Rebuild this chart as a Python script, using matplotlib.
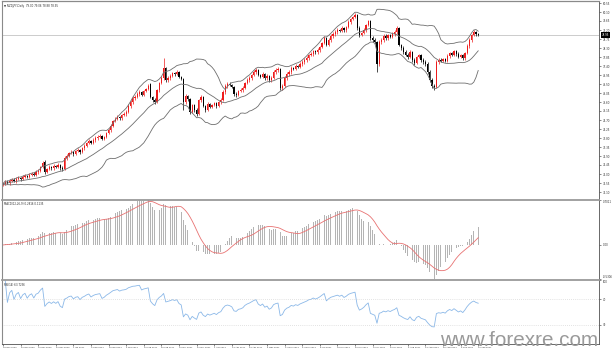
import numpy as np
import pandas as pd
import matplotlib
matplotlib.use("Agg")
import matplotlib.pyplot as plt
from matplotlib.lines import Line2D

symbol_title = "NZDJPY,Daily"

opens = [
    71.45, 71.50, 71.60, 71.55, 71.65, 71.70, 71.65, 71.75, 71.80, 71.75,
    71.85, 71.90, 71.85, 71.95, 72.00, 71.95, 72.10, 72.15, 72.35, 72.60,
    72.10, 72.25, 72.35, 72.30, 72.40, 72.35, 72.45, 72.30, 72.25, 72.80,
    72.90, 73.05, 73.10, 73.00, 73.15, 73.20, 73.10, 73.30, 73.40, 73.55,
    73.65, 73.55, 73.70, 73.80, 73.85, 73.90, 73.75, 73.85, 74.05, 74.20,
    74.40, 74.65, 74.75, 74.85, 74.80, 74.95, 75.00, 75.10, 75.40, 75.60,
    75.80, 75.85, 76.00, 76.10, 75.95, 76.15, 76.25, 76.50, 75.85, 75.70,
    75.60, 76.20, 76.55, 76.80, 77.30, 76.70, 76.80, 76.90, 77.05, 77.00,
    77.10, 76.85, 76.75, 75.60, 75.90, 75.75, 75.10, 75.45, 75.20, 75.00,
    75.70, 75.85, 75.40, 75.20, 75.50, 75.35, 75.45, 75.55, 75.40, 75.60,
    75.70, 76.10, 76.40, 76.50, 76.45, 76.35, 76.00, 75.95, 76.15, 76.20,
    76.30, 76.55, 76.70, 76.80, 76.95, 77.10, 77.20, 76.95, 76.85, 77.00,
    76.80, 76.90, 76.70, 76.80, 77.10, 77.20, 77.25, 76.30, 76.40, 76.80,
    77.00, 77.10, 77.30, 77.25, 77.40, 77.35, 77.50, 77.60, 77.70, 77.80,
    77.95, 78.00, 78.15, 78.10, 78.20, 78.35, 78.55, 78.80, 78.45, 78.70,
    78.90, 79.00, 79.10, 79.20, 79.15, 79.30, 79.20, 79.35, 79.60, 79.75,
    79.85, 79.95, 79.30, 78.95, 79.05, 79.20, 79.45, 79.65, 78.80, 78.70,
    78.60, 77.50, 78.60, 78.70, 78.90, 78.80, 78.95, 78.85, 79.00, 79.10,
    79.30, 78.45, 78.30, 78.10, 77.95, 77.85, 78.10, 77.70, 77.55, 77.85,
    77.95, 77.70, 77.60, 77.50, 77.10, 76.70, 76.40, 76.35, 77.60, 77.70,
    77.65, 77.75, 77.65, 77.90, 78.05, 77.95, 78.15, 78.00, 77.85, 77.95,
    77.80, 78.05, 78.40, 78.70, 78.95, 79.10, 79.00,
]

highs = [
    71.62, 71.70, 71.68, 71.74, 71.82, 71.78, 71.84, 71.90, 71.86, 71.94,
    71.98, 71.96, 72.04, 72.10, 72.08, 72.18, 72.24, 72.42, 72.64, 72.68,
    72.32, 72.44, 72.42, 72.48, 72.46, 72.54, 72.52, 72.38, 72.88, 72.98,
    73.12, 73.18, 73.16, 73.22, 73.28, 73.26, 73.36, 73.48, 73.62, 73.74,
    73.72, 73.78, 73.88, 73.94, 73.98, 73.96, 73.92, 74.12, 74.28, 74.48,
    74.72, 74.84, 74.94, 74.92, 75.02, 75.08, 75.18, 75.48, 75.68, 75.88,
    75.94, 76.08, 76.18, 76.16, 76.22, 76.32, 76.48, 76.56, 75.92, 75.78,
    76.26, 76.62, 76.88, 77.80, 77.36, 76.88, 76.98, 77.12, 77.12, 77.18,
    77.16, 76.92, 76.82, 75.98, 75.96, 75.82, 75.52, 75.52, 75.28, 75.76,
    75.94, 75.92, 75.46, 75.58, 75.56, 75.52, 75.62, 75.62, 75.66, 75.78,
    76.18, 76.48, 76.58, 76.58, 76.52, 76.42, 76.08, 76.22, 76.28, 76.38,
    76.62, 76.78, 76.88, 77.02, 77.18, 77.32, 77.26, 77.02, 77.08, 77.06,
    76.98, 76.96, 76.88, 77.18, 77.28, 77.34, 77.32, 76.48, 76.88, 77.08,
    77.18, 77.38, 77.36, 77.48, 77.46, 77.58, 77.68, 77.78, 77.88, 78.02,
    78.08, 78.22, 78.22, 78.28, 78.42, 78.62, 78.88, 78.86, 78.78, 78.98,
    79.08, 79.18, 79.28, 79.26, 79.38, 79.36, 79.42, 79.68, 79.82, 79.92,
    80.05, 80.02, 79.38, 79.12, 79.28, 79.52, 79.72, 79.72, 78.88, 78.78,
    78.66, 78.68, 78.78, 78.98, 78.98, 79.02, 79.02, 79.08, 79.18, 79.40,
    79.36, 78.52, 78.38, 78.18, 78.04, 78.18, 78.16, 77.78, 77.92, 78.02,
    78.02, 77.78, 77.68, 77.58, 77.18, 76.78, 76.48, 77.68, 77.78, 77.78,
    77.82, 77.82, 77.98, 78.12, 78.12, 78.22, 78.22, 78.08, 78.02, 78.02,
    78.12, 78.48, 78.78, 79.02, 79.18, 79.16, 79.06,
]

lows = [
    71.38, 71.44, 71.48, 71.46, 71.58, 71.58, 71.56, 71.68, 71.66, 71.68,
    71.78, 71.78, 71.80, 71.88, 71.88, 71.90, 72.02, 72.08, 72.28, 72.02,
    72.04, 72.18, 72.22, 72.22, 72.28, 72.28, 72.22, 72.16, 72.20, 72.72,
    72.84, 72.98, 72.92, 72.94, 73.08, 73.02, 73.04, 73.22, 73.34, 73.48,
    73.48, 73.48, 73.62, 73.72, 73.78, 73.68, 73.68, 73.78, 73.98, 74.12,
    74.34, 74.58, 74.68, 74.72, 74.72, 74.88, 74.92, 75.04, 75.32, 75.52,
    75.72, 75.78, 75.92, 75.88, 75.88, 76.08, 76.18, 75.78, 75.62, 75.48,
    75.54, 76.12, 76.48, 76.72, 76.62, 76.60, 76.72, 76.84, 76.92, 76.94,
    76.78, 76.68, 75.20, 75.52, 75.66, 75.02, 75.04, 75.12, 74.92, 74.94,
    75.62, 75.34, 75.12, 75.14, 75.28, 75.28, 75.38, 75.32, 75.34, 75.52,
    75.64, 76.02, 76.32, 76.38, 76.28, 75.92, 75.86, 75.88, 76.08, 76.12,
    76.24, 76.48, 76.62, 76.72, 76.88, 77.02, 76.88, 76.78, 76.78, 76.72,
    76.72, 76.62, 76.62, 76.74, 77.02, 77.12, 76.22, 76.20, 76.34, 76.72,
    76.92, 77.02, 77.18, 77.18, 77.28, 77.28, 77.42, 77.52, 77.62, 77.72,
    77.88, 77.92, 78.02, 78.02, 78.12, 78.28, 78.48, 78.38, 78.38, 78.62,
    78.82, 78.92, 79.02, 79.08, 79.08, 79.12, 79.12, 79.28, 79.52, 79.68,
    79.78, 79.22, 78.86, 78.88, 78.98, 79.12, 79.38, 78.72, 78.62, 78.52,
    77.10, 77.42, 78.52, 78.62, 78.72, 78.72, 78.78, 78.78, 78.92, 79.02,
    78.38, 78.22, 78.02, 77.88, 77.76, 77.78, 77.62, 77.46, 77.48, 77.78,
    77.62, 77.52, 77.42, 77.02, 76.62, 76.32, 76.20, 76.28, 77.52, 77.58,
    77.58, 77.58, 77.58, 77.82, 77.88, 77.88, 77.92, 77.78, 77.78, 77.72,
    77.72, 77.98, 78.32, 78.62, 78.88, 78.92, 78.88,
]

closes = [
    71.50, 71.60, 71.55, 71.65, 71.70, 71.65, 71.75, 71.80, 71.75, 71.85,
    71.90, 71.85, 71.95, 72.00, 71.95, 72.10, 72.15, 72.35, 72.55, 72.10,
    72.25, 72.35, 72.30, 72.40, 72.35, 72.45, 72.30, 72.25, 72.80, 72.90,
    73.05, 73.10, 73.00, 73.15, 73.20, 73.10, 73.30, 73.40, 73.55, 73.65,
    73.55, 73.70, 73.80, 73.85, 73.90, 73.75, 73.85, 74.05, 74.20, 74.40,
    74.65, 74.75, 74.85, 74.80, 74.95, 75.00, 75.10, 75.40, 75.60, 75.80,
    75.85, 76.00, 76.10, 75.95, 76.15, 76.25, 76.40, 75.85, 75.70, 75.60,
    76.20, 76.55, 76.80, 77.30, 76.70, 76.80, 76.90, 77.05, 77.00, 77.10,
    76.85, 76.75, 75.60, 75.90, 75.75, 75.10, 75.45, 75.20, 75.00, 75.70,
    75.85, 75.40, 75.20, 75.50, 75.35, 75.45, 75.55, 75.40, 75.60, 75.70,
    76.10, 76.40, 76.50, 76.45, 76.35, 76.00, 75.95, 76.15, 76.20, 76.30,
    76.55, 76.70, 76.80, 76.95, 77.10, 77.20, 76.95, 76.85, 77.00, 76.80,
    76.90, 76.70, 76.80, 77.10, 77.20, 77.25, 76.30, 76.40, 76.80, 77.00,
    77.10, 77.30, 77.25, 77.40, 77.35, 77.50, 77.60, 77.70, 77.80, 77.95,
    78.00, 78.15, 78.10, 78.20, 78.35, 78.55, 78.80, 78.45, 78.70, 78.90,
    79.00, 79.10, 79.20, 79.15, 79.30, 79.20, 79.35, 79.60, 79.75, 79.85,
    79.95, 79.30, 78.95, 79.05, 79.20, 79.45, 79.65, 78.80, 78.70, 78.60,
    77.50, 78.60, 78.70, 78.90, 78.80, 78.95, 78.85, 79.00, 79.10, 79.30,
    78.45, 78.30, 78.10, 77.95, 77.85, 78.10, 77.70, 77.55, 77.85, 77.95,
    77.70, 77.60, 77.50, 77.10, 76.70, 76.40, 76.35, 77.60, 77.70, 77.65,
    77.75, 77.65, 77.90, 78.05, 77.95, 78.15, 78.00, 77.85, 77.95, 77.80,
    78.05, 78.40, 78.70, 78.95, 79.10, 79.00, 78.95,
]

date_labels = [
    "18 Nov 2020", "30 Nov 2020", "10 Dec 2020", "22 Dec 2020", "1 Jan 2021",
    "13 Jan 2021", "25 Jan 2021", "4 Feb 2021", "16 Feb 2021", "26 Feb 2021",
    "10 Mar 2021", "22 Mar 2021", "1 Apr 2021", "13 Apr 2021", "23 Apr 2021",
    "5 May 2021", "17 May 2021", "27 May 2021", "8 Jun 2021", "18 Jun 2021",
    "30 Jun 2021", "12 Jul 2021", "22 Jul 2021", "3 Aug 2021", "13 Aug 2021",
    "25 Aug 2021", "6 Sep 2021", "16 Sep 2021",
]
label_step = 8

price_ticks = [80.55, 80.10, 79.65, 79.20, 78.75, 78.30, 77.85, 77.40, 76.95,
               76.50, 76.05, 75.60, 75.15, 74.70, 74.25, 73.80, 73.35, 72.90,
               72.45, 72.00, 71.55, 71.10]
rsi_ticks = [100, 70, 30]
rsi_levels = [70, 30]

# ---------------------------------------------------------------
W, H = 612, 353
fig = plt.figure(figsize=(W / 100, H / 100), dpi=100)
fig.patch.set_facecolor("white")

def ax_px(x0, y0, x1, y1):
    return fig.add_axes([x0 / W, 1 - y1 / H, (x1 - x0) / W, (y1 - y0) / H])

LEFT, RIGHT = 2, 599
ax1 = ax_px(LEFT, 1, RIGHT, 199)
ax2 = ax_px(LEFT, 200, RIGHT, 279)
ax3 = ax_px(LEFT, 280, RIGHT, 344)

N = len(closes)
x = np.arange(N)
o = np.array(opens); h = np.array(highs); l = np.array(lows); c = np.array(closes)
s = pd.Series(c)

px_per_bar = 2.2
x_left = -(3 - LEFT) / px_per_bar
x_right = x_left + (RIGHT - LEFT) / px_per_bar

RED = "#ee1c1c"
BLACK = "#000000"
TXT = "#303030"
FS = 1.9
FSX = 1.55

# indicators
mid = s.rolling(20, min_periods=1).mean()
sd = s.rolling(20, min_periods=1).std(ddof=0)
upper = mid + 2 * sd
lower = mid - 2 * sd

ema12 = s.ewm(span=12, adjust=False).mean()
ema26 = s.ewm(span=26, adjust=False).mean()
macd = ema12 - ema26
signal = macd.rolling(9, min_periods=1).mean()

d = s.diff()
gain = d.clip(lower=0)
loss = -d.clip(upper=0)
ag = gain.ewm(alpha=1 / 14, adjust=True).mean()
al = loss.ewm(alpha=1 / 14, adjust=True).mean()
rsi = 100 - 100 / (1 + ag / al)

# ---- main panel
up = c >= o
cols = np.where(up, RED, BLACK)
ax1.vlines(x, l, h, colors=cols, lw=0.5)
body = np.maximum(np.abs(c - o), 0.03)
ax1.bar(x, body, bottom=np.minimum(o, c), width=0.62, color=cols, linewidth=0)
for band in (upper, mid, lower):
    ax1.plot(x, band, color="#6e6e6e", lw=0.6)
ax1.axhline(c[-1], color="#c4c4c4", lw=0.6, zorder=0)
ax1.set_xlim(x_left, x_right)
ax1.set_ylim(80.70 - 199 / 20, 80.70 - 1 / 20)
ax1.set_yticks(price_ticks)
ax1.set_yticklabels([f"{v:.2f}" for v in price_ticks])
ax1.annotate(f"{c[-1]:.2f}", xy=(1.0, c[-1]), xycoords=("axes fraction", "data"),
             xytext=(2, 0), textcoords="offset points", fontsize=FS, color="white",
             va="center", ha="left",
             bbox=dict(boxstyle="square,pad=0.35", fc="black", ec="black", lw=0))
ax1.text(0.004, 0.985, f"\u25bc {symbol_title}  {o[-1]:.2f} {h[-1]:.2f} {l[-1]:.2f} {c[-1]:.2f}",
         transform=ax1.transAxes, fontsize=FS, va="top", ha="left", color=TXT)

# ---- MACD panel
ax2.bar(x, macd, width=0.42, color="#b4b4b4", linewidth=0)
ax2.plot(x, signal, color="#e87272", lw=0.6)
mmax = max(macd.max(), signal.max())
mmin = min(macd.min(), signal.min())
ax2.set_xlim(x_left, x_right)
ax2.set_ylim(mmin, mmax)
ax2.set_yticks([mmax, 0, mmin])
ax2.set_yticklabels([f"{mmax:.4f}", "0.00", f"{mmin:.4f}"])
ax2.text(0.004, 0.97, f"MACD(12,26,9) {macd.iloc[-1]:.4f} {signal.iloc[-1]:.4f}",
         transform=ax2.transAxes, fontsize=FS, va="top", ha="left", color=TXT)

# ---- RSI panel
ax3.plot(x, rsi, color="#8bb8e8", lw=0.6)
for lv in rsi_levels:
    ax3.axhline(lv, color="#c8c8c8", lw=0.5, ls=(0, (1, 2)))
ax3.set_xlim(x_left, x_right)
ax3.set_ylim(0, 100)
ax3.set_yticks(rsi_ticks)
ax3.set_yticklabels([str(v) for v in rsi_ticks])
ax3.text(0.004, 0.96, f"RSI(14) {rsi.iloc[-1]:.4f}",
         transform=ax3.transAxes, fontsize=FS, va="top", ha="left", color=TXT)
tick_pos = list(range(0, N, label_step))[:len(date_labels)]
ax3.set_xticks(tick_pos)
ax3.set_xticklabels(date_labels[:len(tick_pos)], ha="left")

for ax in (ax1, ax2, ax3):
    ax.set_facecolor("white")
    ax.yaxis.tick_right()
    ax.tick_params(axis="y", length=1.5, width=0.4, pad=1.0, labelsize=FS,
                   colors=TXT)
    for side in ("top", "bottom"):
        ax.spines[side].set_visible(False)
    ax.spines["left"].set_color("#8a8a8a")
    ax.spines["left"].set_linewidth(0.8)
    ax.spines["right"].set_color("#505050")
    ax.spines["right"].set_linewidth(0.6)
for ax in (ax1, ax2):
    ax.tick_params(axis="x", bottom=False, labelbottom=False)
ax3.tick_params(axis="x", length=1.5, width=0.4, pad=0.8, labelsize=FSX, colors=TXT)
ax3.spines["bottom"].set_visible(True)
ax3.spines["bottom"].set_color("#505050")
ax3.spines["bottom"].set_linewidth(0.6)

# keep edge labels inside their own panels
lbl2 = ax2.get_yticklabels()
lbl2[0].set_va("top")
lbl2[-1].set_va("bottom")
lbl3 = ax3.get_yticklabels()
lbl3[0].set_va("top")

# separators / frame lines
def hline_px(y, lw, color):
    fig.add_artist(Line2D([LEFT / W, RIGHT / W], [1 - y / H, 1 - y / H],
                          transform=fig.transFigure, lw=lw, color=color))
hline_px(0.8, 0.9, "#8a8a8a")
hline_px(199.5, 1.3, "#9a9a9a")
hline_px(279.5, 1.3, "#9a9a9a")

# watermark
fig.text(598 / W, 1 - 346 / H, "www.forexre.com", fontsize=14.9,
         family="Liberation Sans", color="#9a9a9a", ha="right", va="baseline")

fig.savefig("out.png", dpi=100, facecolor="white")
